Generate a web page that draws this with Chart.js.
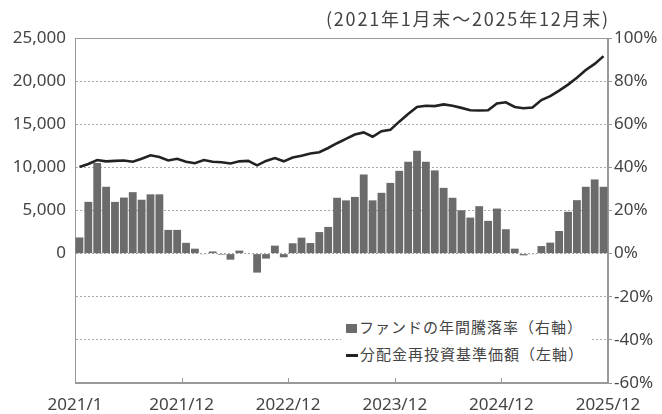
<!DOCTYPE html>
<html>
<head>
<meta charset="utf-8">
<script src="https://cdn.jsdelivr.net/npm/chart.js@4.4.1/dist/chart.umd.min.js"></script>
<style>
body { margin: 0; background: #fff; }
#wrap { position: relative; width: 662px; height: 414px; }
#title { position: absolute; right: 52px; top: 5px; font: 18px "Noto Sans CJK JP"; letter-spacing: 1.8px; color: #444; white-space: nowrap; }
#legend { position: absolute; left: 341px; top: 311px; background: #fff; padding: 2px 6px 2px 5px; font: 15px "Noto Sans CJK JP"; letter-spacing: 1px; color: #444; line-height: 27px; }
#legend .sq { display: inline-block; width: 11px; height: 9px; background: #6b6b6b; margin-right: 2px; vertical-align: middle; }
#legend .ln { display: inline-block; width: 12px; height: 3px; background: #222; margin-right: 2px; vertical-align: middle; }
</style>
</head>
<body>
<div id="wrap">
  <canvas id="c"></canvas>
  <div id="title">(2021年1月末～2025年12月末)</div>
  <div id="legend">
    <div><span class="sq"></span>ファンドの年間騰落率（右軸）</div>
    <div><span class="ln"></span>分配金再投資基準価額（左軸）</div>
  </div>
</div>
<script>
// 2021/1 .. 2025/12 monthly
var months = [];
for (var yr = 2021; yr <= 2025; yr++) {
  for (var m = 1; m <= 12; m++) months.push(yr + '/' + m);
}

// fund yearly return (%), right axis
var fundReturn = [
  7.5, 24, 42, 31, 24, 26, 28.5, 25, 27.5, 27.5, 11, 11,
  5, 2.3, -0.3, 1, -0.5, -2.8, 1.4, -0.2, -8.8, -2.3, 3.7, -1.7,
  4.8, 7.4, 4.9, 10, 12.4, 25.9, 24.7, 26.3, 36.7, 24.7, 28.2, 32.8,
  38.4, 42.6, 47.7, 42.6, 38.6, 30.5, 25.9, 20.1, 16.7, 22, 15.2, 20.9,
  11.3, 2.3, -0.8, -0.3, 3.5, 5.1, 10.5, 19.4, 24.8, 31, 34.4, 31
];

// NAV incl. reinvested distributions, left axis
var navValue = [
  10050, 10400, 10850, 10700, 10750, 10800, 10650, 11000, 11400, 11200, 10800, 11000,
  10650, 10480, 10850, 10650, 10600, 10450, 10700, 10750, 10230, 10750, 11080, 10700,
  11150, 11350, 11600, 11750, 12250, 12800, 13300, 13800, 14050, 13550, 14200, 14350,
  15300, 16200, 17000, 17150, 17100, 17300, 17150, 16900, 16630, 16600, 16630, 17400,
  17550, 17000, 16850, 16950, 17800, 18250, 18900, 19600, 20400, 21300, 22000, 22900
];

var xTickPos = [0, 12, 24, 36, 48, 60];
var xTickLabels = ['2021/1', '2021/12', '2022/12', '2023/12', '2024/12', '2025/12'];

var barPts = fundReturn.map(function (v, i) { return { x: i + 0.5, y: v }; });
var linePts = navValue.map(function (v, i) { return { x: i + 0.5, y: v }; });

var tickFont = { family: 'Noto Sans', size: 17 };

var framePlugin = {
  id: 'frame',
  beforeDatasetsDraw: function (chart) {
    var a = chart.chartArea, ctx = chart.ctx;
    ctx.save();
    ctx.strokeStyle = '#999';
    ctx.lineWidth = 1;
    ctx.strokeRect(a.left + 0.5, a.top + 0.5, a.right - a.left - 1, a.bottom - a.top - 1);
    // small inward ticks on the time axis
    var xs = chart.scales.x;
    xTickPos.forEach(function (p) {
      var px = Math.round(xs.getPixelForValue(p)) + 0.5;
      ctx.beginPath();
      ctx.moveTo(px, a.bottom);
      ctx.lineTo(px, a.bottom - 5);
      ctx.stroke();
    });
    ctx.restore();
  }
};

new Chart(document.getElementById('c'), {
  data: {
    datasets: [
      {
        type: 'line',
        label: '分配金再投資基準価額（左軸）',
        data: linePts,
        yAxisID: 'y',
        borderColor: '#222',
        borderWidth: 2.6,
        pointRadius: 0,
        tension: 0,
        order: 1
      },
      {
        type: 'bar',
        label: 'ファンドの年間騰落率（右軸）',
        data: barPts,
        yAxisID: 'y1',
        backgroundColor: '#6b6b6b',
        barPercentage: 0.88,
        categoryPercentage: 1,
        order: 2
      }
    ]
  },
  options: {
    animation: false,
    responsive: true,
    maintainAspectRatio: false,
    layout: { padding: { top: 38 } },
    plugins: { legend: { display: false }, tooltip: { enabled: false } },
    scales: {
      x: {
        type: 'linear',
        min: 0,
        max: 60,
        offset: false,
        afterBuildTicks: function (s) { s.ticks = xTickPos.map(function (v) { return { value: v }; }); },
        afterFit: function (s) { s.height = 31; },
        ticks: {
          autoSkip: false,
          maxRotation: 0,
          color: '#444',
          font: tickFont,
          padding: 4,
          callback: function (v) { return xTickLabels[xTickPos.indexOf(v)]; }
        },
        grid: { display: false },
        border: { display: true, color: '#999' }
      },
      y: {
        position: 'left',
        min: -15000,
        max: 25000,
        afterFit: function (s) { s.width = 75; },
        ticks: {
          stepSize: 5000,
          color: '#444',
          font: tickFont,
          padding: 9,
          callback: function (v) { return v >= 0 ? v.toLocaleString('en-US') : ''; }
        },
        grid: { color: '#aaa', lineWidth: 1, drawTicks: false },
        border: { display: true, color: '#999', dash: [2, 2] }
      },
      y1: {
        position: 'right',
        min: -60,
        max: 100,
        afterFit: function (s) { s.width = 54; },
        ticks: {
          stepSize: 20,
          color: '#444',
          font: tickFont,
          padding: 2,
          callback: function (v) { return v + '%'; }
        },
        grid: { drawOnChartArea: false, color: '#999', tickLength: 4 },
        border: { display: true, color: '#999' }
      }
    }
  },
  plugins: [framePlugin]
});
</script>
</body>
</html>
